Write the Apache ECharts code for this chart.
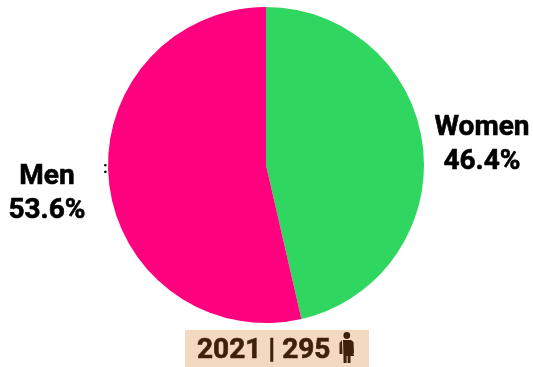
<!DOCTYPE html>
<html>
<head>
<meta charset="utf-8">
<style>html,body{margin:0;padding:0;background:#fff}#chart{width:533px;height:367px}</style>
<script src="https://cdn.jsdelivr.net/npm/echarts@6/dist/echarts.min.js"></script>
</head>
<body>
<div id="chart"></div>
<script>
// Gender split for one year, with the sample size in the caption
const categories = ['Women', 'Men'];
const shares = [46.4, 53.6];
const sliceColors = ['#2FD760', '#FF007F'];
const captionText = '2021 | 295';
const labelAnchors = [[482, 145], [47, 194]];

const labelFont = 'Roboto, sans-serif';
const inkColor = '#3D2209';
const chart = echarts.init(document.getElementById('chart'), null, {renderer: 'canvas'});

chart.setOption({
  animation: false,
  backgroundColor: '#ffffff',
  series: [{
    type: 'pie',
    center: [266, 165],
    radius: [0, 158],
    startAngle: 90,
    clockwise: true,
    silent: true,
    avoidLabelOverlap: false,
    data: categories.map((name, i) => ({
      name,
      value: shares[i],
      itemStyle: {color: sliceColors[i]}
    })),
    label: {
      show: true,
      position: 'outside',
      formatter: p => p.name + '\n' + p.value.toFixed(1) + '%',
      color: '#000000',
      fontFamily: labelFont,
      fontWeight: 'bold',
      fontSize: 28,
      lineHeight: 34,
      width: 130,
      overflow: 'none',
      textBorderColor: '#000000',
      textBorderWidth: 0.6,
      align: 'center',
      verticalAlign: 'middle'
    },
    labelLine: {show: false},
    labelLayout: params => ({
      x: labelAnchors[params.dataIndex][0],
      y: labelAnchors[params.dataIndex][1],
      align: 'center',
      verticalAlign: 'middle'
    })
  }],
  graphic: [
    {
      type: 'text',
      x: 103,
      y: 169,
      style: {
        text: ':',
        fill: '#000000',
        font: 'bold 17px ' + labelFont,
        verticalAlign: 'middle'
      }
    },
    {
      type: 'rect',
      shape: {x: 185, y: 330, width: 184, height: 37},
      style: {fill: '#F2D9BF'}
    },
    {
      type: 'text',
      x: 197,
      y: 351,
      style: {
        text: captionText,
        fill: inkColor,
        stroke: inkColor,
        lineWidth: 0.6,
        font: 'bold 28px ' + labelFont,
        verticalAlign: 'middle'
      }
    },
    // Standing figure next to the count: head, arm, and body with a flared skirt
    {
      type: 'circle',
      shape: {cx: 346.8, cy: 335.5, r: 3.4},
      style: {fill: inkColor}
    },
    {
      type: 'polygon',
      shape: {points: [[339.5, 343], [342, 340], [342.5, 354], [339.5, 354]]},
      style: {fill: inkColor}
    },
    {
      type: 'polygon',
      shape: {
        points: [[343, 340], [351, 340], [353.5, 342], [354, 353], [352.5, 353], [352, 346],
                 [354, 356], [350.5, 356], [350.5, 363], [347.6, 363], [347.6, 356], [346.6, 356],
                 [346.6, 363], [343.6, 363]]
      },
      style: {fill: inkColor}
    }
  ]
});
</script>
</body>
</html>
